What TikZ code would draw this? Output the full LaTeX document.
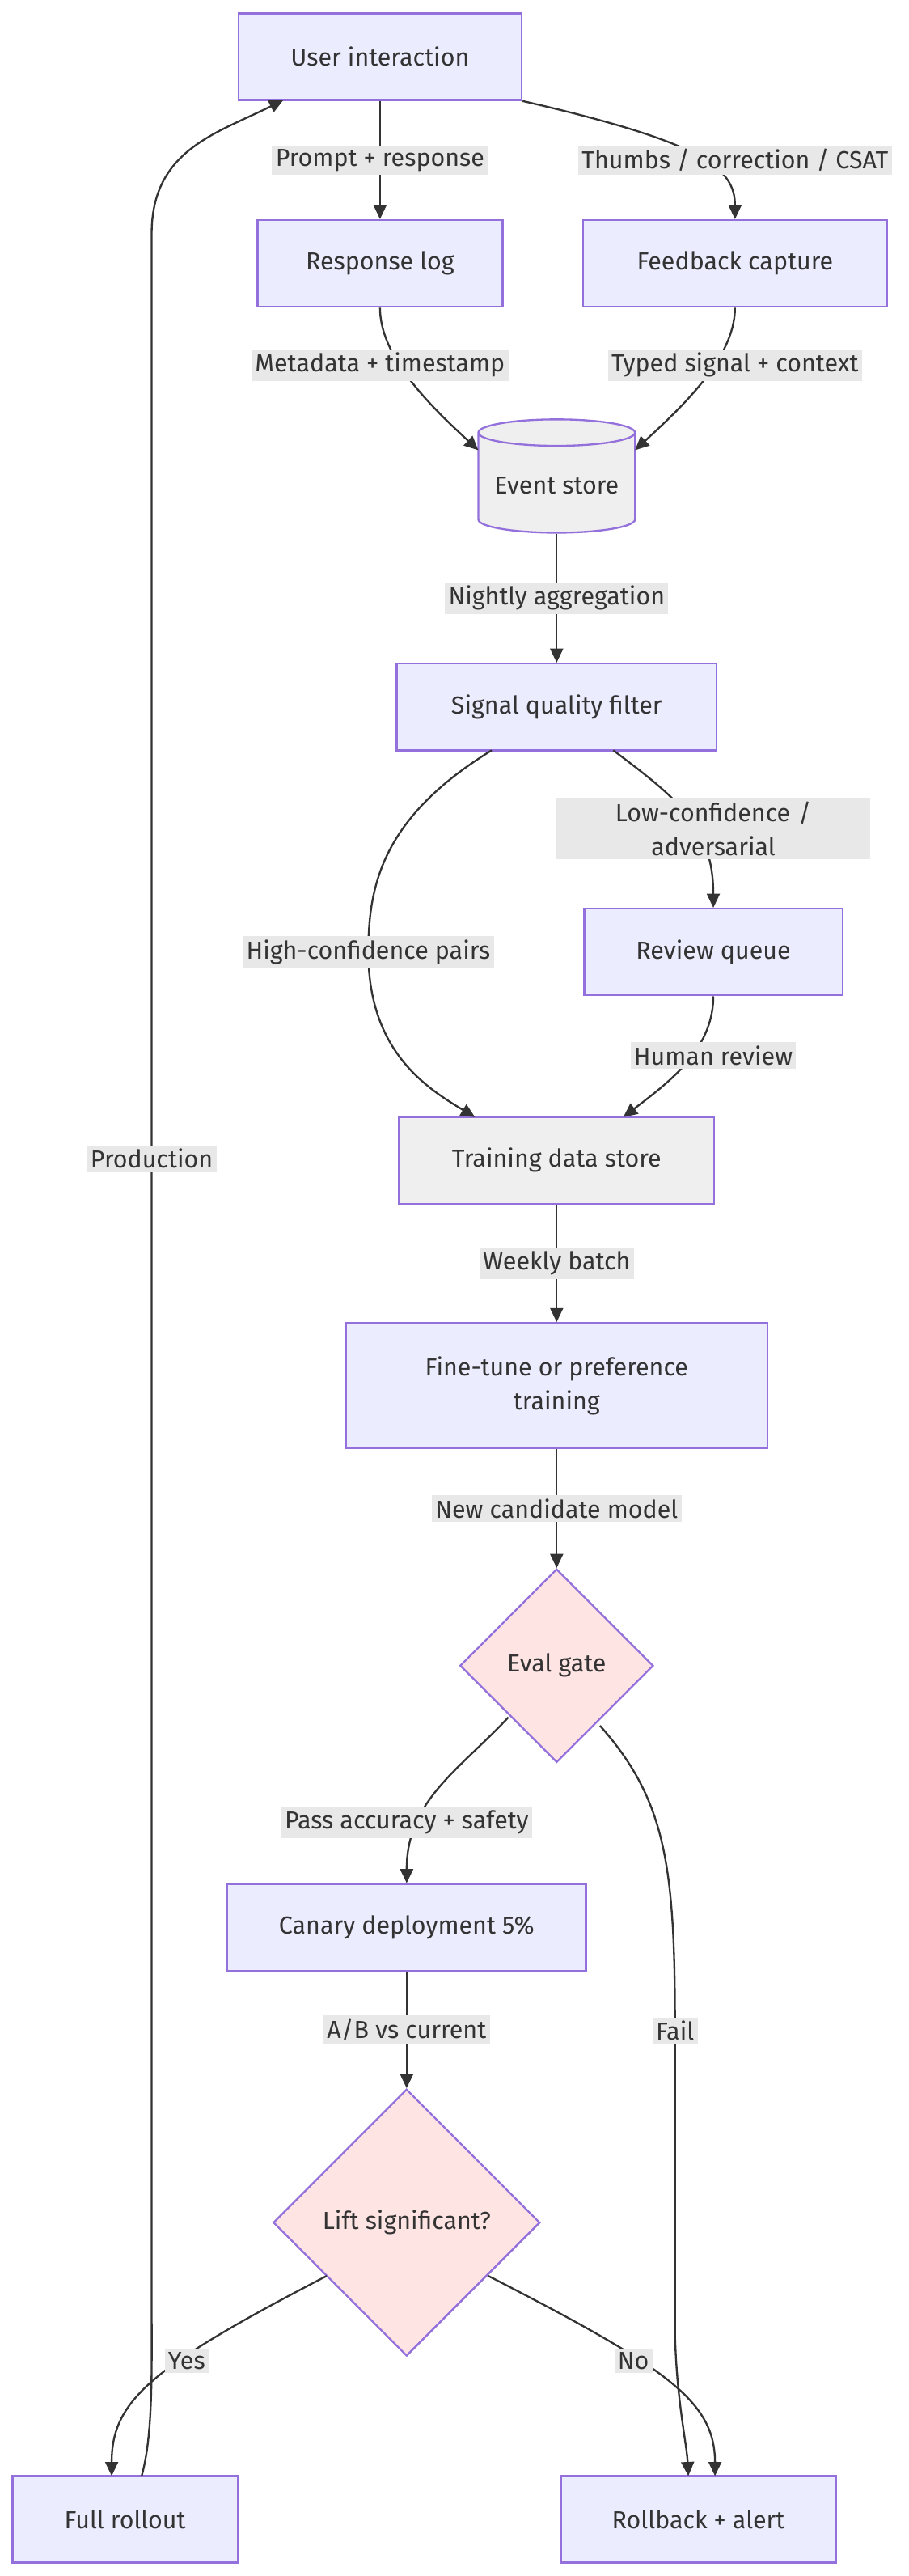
\documentclass[tikz,border=0pt]{standalone}
\usepackage{fontspec}
\setmainfont{Fira Sans}
\usetikzlibrary{shapes.geometric,arrows.meta}
\definecolor{bf}{HTML}{ECECFF}\definecolor{bs}{HTML}{9370DB}
\definecolor{df}{HTML}{FFE4E4}\definecolor{gf}{HTML}{EFEFEF}
\definecolor{lb}{HTML}{E8E8E8}\definecolor{tx}{HTML}{333333}
\begin{document}
\begin{tikzpicture}[x=0.05cm,y=-0.05cm,
 font=\fontsize{21}{29}\selectfont, text=tx,
 box/.style={draw=bs,fill=bf,line width=1.6pt,minimum height=2.6cm,align=center},
 gbox/.style={box,fill=gf},
 dia/.style={diamond,aspect=1,draw=bs,fill=df,line width=1.6pt,inner sep=0pt},
 lab/.style={fill=lb,inner sep=3pt,align=center,text=tx},
 e/.style={draw=tx,line width=1.6pt,-{Triangle[length=12pt,width=11pt]}}]
\useasboundingbox[fill=white] (0,0) rectangle (545,1545);
\node[box,minimum width=8.5cm] (user) at (228,34) {User interaction};
\node[box,minimum width=7.35cm] (rlog) at (228,158) {Response log};
\node[box,minimum width=9.1cm] (fb) at (441,158) {Feedback capture};
\node[cylinder,shape border rotate=90,aspect=0.2,draw=bs,fill=gf,line width=1.6pt,minimum width=4.7cm,minimum height=3.4cm] (ev) at (334,291) {Event store};
\node[box,minimum width=9.6cm] (sq) at (334,424) {Signal quality filter};
\node[box,minimum width=7.75cm] (rq) at (428,571) {Review queue};
\node[gbox,minimum width=9.45cm] (td) at (334,696) {Training data store};
\node[box,minimum width=12.65cm,minimum height=3.75cm] (ft) at (334,831) {Fine-tune or preference\\training};
\node[dia,minimum size=5.8cm] (eg) at (334,999) {Eval gate};
\node[box,minimum width=10.75cm] (can) at (244,1156) {Canary deployment 5\%};
\node[dia,minimum size=8cm] (lift) at (244,1333) {Lift significant?};
\node[box,minimum width=6.75cm] (full) at (75,1511) {Full rollout};
\node[box,minimum width=8.25cm] (rb) at (419,1511) {Rollback + alert};

\draw[e] (user.south) -- node[lab]{Prompt + response} (rlog.north);
\draw[e] (user.south east) .. controls (420,85) and (441,100) .. (fb.north);
\node[lab] at (441,96) {Thumbs / correction / CSAT};
\draw[e] (rlog.south) .. controls (228,215) and (260,245) .. (287,270);
\node[lab] at (228,219) {Metadata + timestamp};
\draw[e] (fb.south) .. controls (441,215) and (408,245) .. (381,270);
\node[lab] at (441,219) {Typed signal + context};
\draw[e] (ev.bottom) -- node[lab]{Nightly aggregation} (sq.north);
\draw[e] (368,450) .. controls (405,478) and (428,495) .. (rq.north);
\node[lab,text width=9.2cm] at (428,497) {Low-confidence /\\adversarial};
\draw[e] (295,450) .. controls (230,490) and (221,530) .. (221,571) .. controls (221,630) and (255,652) .. (285,670);
\node[lab] at (221,571) {High-confidence pairs};
\draw[e] (rq.south) .. controls (428,630) and (400,650) .. (374,670);
\node[lab] at (428,633) {Human review};
\draw[e] (td.south) -- node[lab]{Weekly batch} (ft.north);
\draw[e] (ft.south) -- node[lab]{New candidate model} (eg.north);
\draw[e] (305,1030) .. controls (275,1062) and (244,1080) .. (can.north);
\node[lab] at (244,1093) {Pass accuracy + safety};
\draw[e] (360,1035) .. controls (400,1080) and (405,1120) .. (405,1218) -- (405,1400) .. controls (406,1440) and (412,1465) .. (413,1485);
\node[lab] at (405,1218) {Fail};
\draw[e] (can.south) -- node[lab]{A/B vs current} (lift.north);
\draw[e] (196,1365) .. controls (90,1420) and (67,1440) .. (67,1485);
\node[lab] at (112,1416) {Yes};
\draw[e] (293,1365) .. controls (400,1420) and (429,1440) .. (429,1485);
\node[lab] at (380,1416) {No};
\draw[e] (85,1485) .. controls (92,1460) and (91,1420) .. (91,1380) -- (91,140) .. controls (91,90) and (130,80) .. (170,60);
\node[lab] at (91,695) {Production};
\end{tikzpicture}
\end{document}
